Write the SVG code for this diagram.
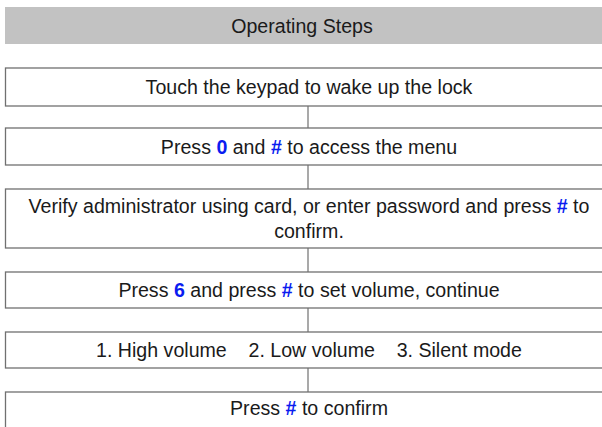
<svg xmlns="http://www.w3.org/2000/svg" width="602" height="427" viewBox="0 0 602 427">
  <style>
    .box { fill: #ffffff; stroke: #707070; stroke-width: 1.3; }
    .t { font-family: "Liberation Sans", Arial, sans-serif; font-size: 19.6px; fill: #1a1a1a; text-anchor: middle; }
    .k { font-weight: bold; fill: #0a1cf0; }
    .link { stroke: #707070; stroke-width: 1.2; fill: none; }
  </style>
  <rect width="602" height="427" fill="#ffffff"/>
  <g id="header">
    <rect x="5" y="7" width="597" height="37" fill="#c2c2c2"/>
    <text class="t" x="302" y="32.5">Operating Steps</text>
  </g>
  <g id="connectors">
    <line class="link" x1="308" y1="106" x2="308" y2="128"/>
    <line class="link" x1="308" y1="165" x2="308" y2="189"/>
    <line class="link" x1="308" y1="248" x2="308" y2="272"/>
    <line class="link" x1="308" y1="308" x2="308" y2="332"/>
    <line class="link" x1="308" y1="368" x2="308" y2="392"/>
  </g>
  <g id="step1">
    <rect class="box" x="5.5" y="68" width="610" height="38"/>
    <text class="t" x="309" y="94">Touch the keypad to wake up the lock</text>
  </g>
  <g id="step2">
    <rect class="box" x="5.5" y="128" width="610" height="37"/>
    <text class="t" x="309" y="153.5">Press <tspan class="k">0</tspan> and <tspan class="k">#</tspan> to access the menu</text>
  </g>
  <g id="step3">
    <rect class="box" x="5.5" y="189" width="610" height="59"/>
    <text class="t" x="309" y="212.5">Verify administrator using card, or enter password and press <tspan class="k">#</tspan> to</text>
    <text class="t" x="309" y="238">confirm.</text>
  </g>
  <g id="step4">
    <rect class="box" x="5.5" y="272" width="610" height="36"/>
    <text class="t" x="309" y="297">Press <tspan class="k">6</tspan> and press <tspan class="k">#</tspan> to set volume, continue</text>
  </g>
  <g id="step5">
    <rect class="box" x="5.5" y="332" width="610" height="36"/>
    <text class="t" x="309" y="357" xml:space="preserve">1. High volume    2. Low volume    3. Silent mode</text>
  </g>
  <g id="step6">
    <rect class="box" x="5.5" y="392" width="610" height="50"/>
    <text class="t" x="309" y="415">Press <tspan class="k">#</tspan> to confirm</text>
  </g>
</svg>
